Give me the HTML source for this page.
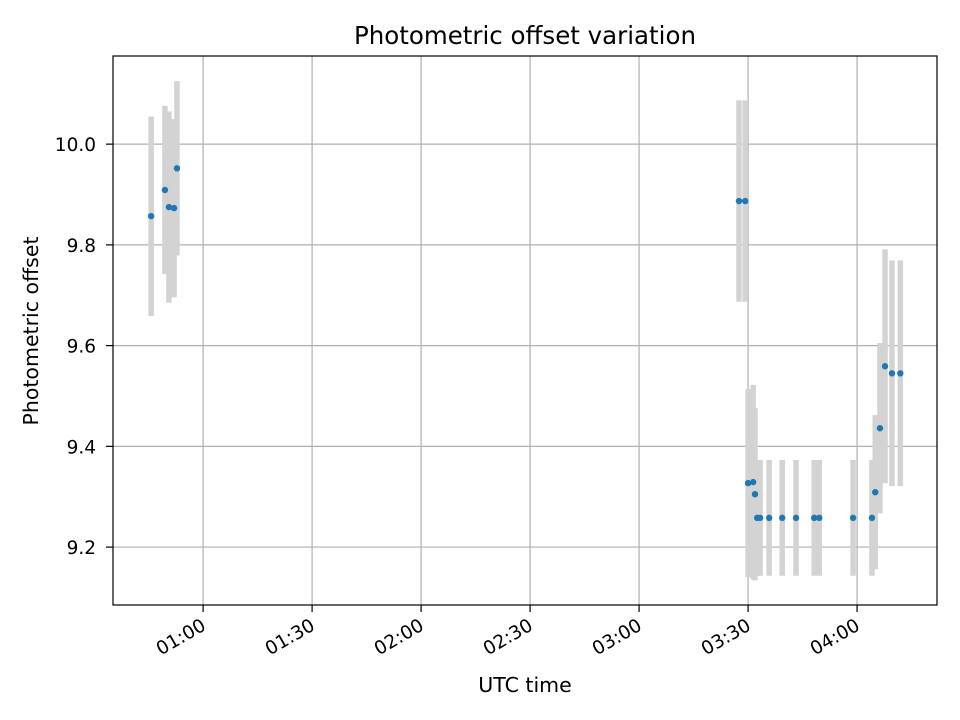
<!DOCTYPE html>
<html><head><meta charset="utf-8"><style>
body{margin:0;background:#fff;}
svg{display:block;font-family:"DejaVu Sans","Liberation Sans",sans-serif;}
</style></head><body>
<svg id="chart" width="960" height="720" xmlns="http://www.w3.org/2000/svg">
<rect width="960" height="720" fill="#fff"/>
<g id="grid"></g>
<g id="bars"></g>
<g id="pts"></g>
<rect x="113" y="56" width="824" height="549" fill="none" stroke="#000" stroke-width="1.2"/>
<g id="ticks"></g>
<text x="525" y="44" text-anchor="middle" font-size="24.5">Photometric offset variation</text>
<text x="525" y="692" text-anchor="middle" font-size="20.5">UTC time</text>
<text transform="translate(38,331) rotate(-90)" text-anchor="middle" font-size="20.5">Photometric offset</text>
</svg>
<script>
// times in minutes after 00:00 UTC
const times = [45.7,49.5,50.6,52.0,52.8,207.5,209.2,210.0,211.4,211.9,212.5,213.3,215.8,219.4,223.2,228.2,229.6,238.9,244.1,245.0,246.3,247.7,249.6,251.9];
const values = [9.857,9.909,9.875,9.873,9.952,9.887,9.887,9.327,9.329,9.305,9.258,9.258,9.258,9.258,9.258,9.258,9.258,9.258,9.258,9.309,9.436,9.559,9.545,9.545];
const errors = [0.198,0.167,0.19,0.177,0.173,0.2,0.2,0.187,0.193,0.171,0.115,0.115,0.115,0.115,0.115,0.115,0.115,0.115,0.115,0.153,0.169,0.232,0.224,0.224];
const xTicks = [60,90,120,150,180,210,240];
const xTickLabels = ["01:00","01:30","02:00","02:30","03:00","03:30","04:00"];
const yTicks = [9.2,9.4,9.6,9.8,10.0];
const yTickLabels = ["9.2","9.4","9.6","9.8","10.0"];

const L=113,R=937,T=56,B=605;
const xMin=35.2,xMax=262.0,yMin=9.085,yMax=10.175;
const X=t=>L+(t-xMin)/(xMax-xMin)*(R-L);
const Y=v=>B-(v-yMin)/(yMax-yMin)*(B-T);
const NS="http://www.w3.org/2000/svg";
function mk(tag,attrs,parent){const e=document.createElementNS(NS,tag);for(const k in attrs)e.setAttribute(k,attrs[k]);document.getElementById(parent).appendChild(e);return e;}

xTicks.forEach((t,i)=>{
  const x=X(t);
  const g=mk('line',{x1:x,x2:x,y1:T,y2:B,stroke:'#b0b0b0','stroke-width':1.2},'grid');
  
  
  const tk=mk('line',{x1:x,x2:x,y1:B,y2:B+7,stroke:'#000','stroke-width':1.2},'ticks');
  
  
  const tx=mk('text',{transform:`translate(${x+4},${B+24}) rotate(-30)`,'text-anchor':'end','font-size':18.5},'ticks');
  tx.textContent=xTickLabels[i];
  
  
});
yTicks.forEach((v,i)=>{
  const y=Y(v);
  const g=mk('line',{x1:L,x2:R,y1:y,y2:y,stroke:'#b0b0b0','stroke-width':1.2},'grid');
  
  
  const tk=mk('line',{x1:L-7,x2:L,y1:y,y2:y,stroke:'#000','stroke-width':1.2},'ticks');
  
  
  const tx=mk('text',{x:L-17,y:y+7,'text-anchor':'end','font-size':18.5},'ticks');
  tx.textContent=yTickLabels[i];
  
  
});
times.forEach((t,i)=>{
  const x=X(t);
  const b=mk('line',{x1:x,x2:x,y1:Y(values[i]+errors[i]),y2:Y(values[i]-errors[i]),stroke:'#d3d3d3','stroke-width':5.5},'bars');
  
  
});
times.forEach((t,i)=>{
  const c=mk('circle',{cx:X(t),cy:Y(values[i]),r:3.2,fill:'#1f77b4'},'pts');
  
  
});
</script>
</body></html>
